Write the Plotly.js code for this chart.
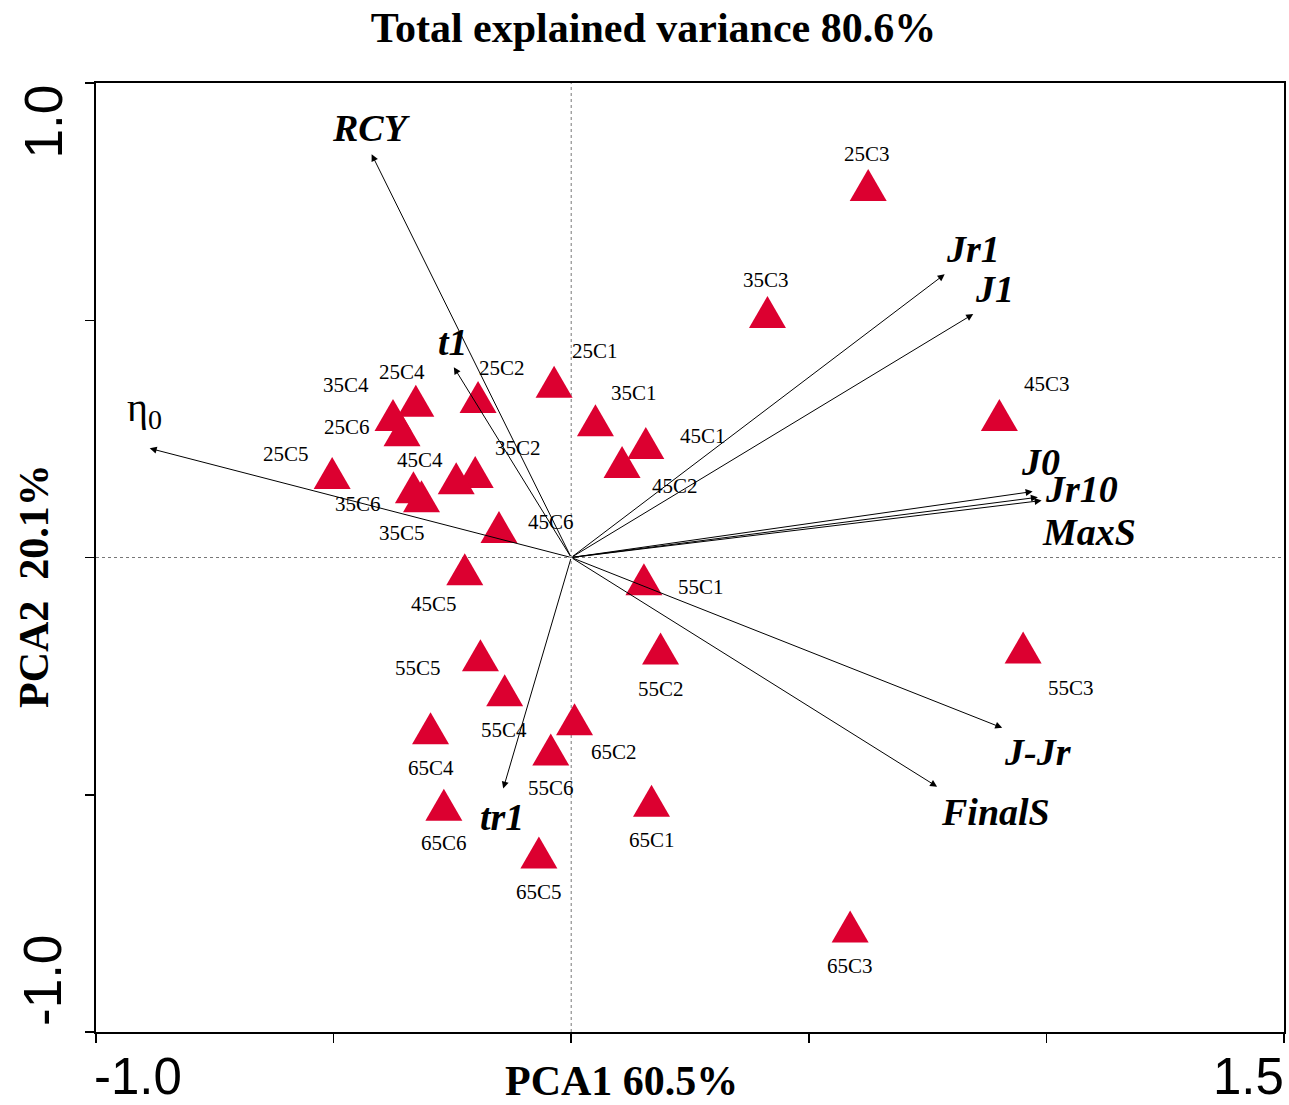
<!DOCTYPE html>
<html>
<head>
<meta charset="utf-8">
<script src="https://cdn.plot.ly/plotly-3.0.1.min.js"></script>
<style>
  html, body { margin: 0; padding: 0; background: #fff; }
  #chart { width: 1289px; height: 1105px; }
</style>
</head>
<body>
<div id="chart"></div>
<script>
// PCA biplot: sample scores (triangles) and variable loadings (arrows)

const sampleNames = ['25C1','25C2','25C3','25C4','25C5','25C6',
                     '35C1','35C2','35C3','35C4','35C5','35C6',
                     '45C1','45C2','45C3','45C4','45C5','45C6',
                     '55C1','55C2','55C3','55C4','55C5','55C6',
                     '65C1','65C2','65C3','65C4','65C5','65C6'];
const samplePC1 = [-0.036, -0.196, 0.625, -0.327, -0.503, -0.356,
                    0.051, -0.202, 0.413, -0.375, -0.315, -0.332,
                    0.157,  0.107, 0.901, -0.242, -0.224, -0.152,
                    0.153,  0.188, 0.951, -0.140, -0.191, -0.043,
                    0.169,  0.007, 0.587, -0.296, -0.068, -0.268];
const samplePC2 = [ 0.359,  0.327, 0.774,  0.319,  0.167,  0.257,
                    0.278,  0.169, 0.506,  0.289,  0.118,  0.137,
                    0.230,  0.190, 0.289,  0.156, -0.036,  0.053,
                   -0.057, -0.203, -0.201, -0.291, -0.217, -0.416,
                   -0.524, -0.352, -0.789, -0.371, -0.633, -0.532];

const varNames = ['RCY', 't1', 'η<sub>0</sub>', 'tr1', 'Jr1', 'J1', 'J0', 'Jr10', 'MaxS', 'J-Jr', 'FinalS'];
const varPC1 = [-0.420, -0.247, -0.887, -0.143, 0.786, 0.846, 0.971, 0.982, 0.990, 0.907, 0.770];
const varPC2 = [ 0.850,  0.401,  0.230, -0.487, 0.597, 0.513, 0.139, 0.127, 0.120, -0.359, -0.483];

const xTickVals = [-1.0, -0.5, 0, 0.5, 1.0, 1.5];
const yTickVals = [-1.0, -0.5, 0, 0.5, 1.0];
const xEndLabels = ['-1.0', '1.5'];
const yEndLabels = ['-1.0', '1.0'];

const titleText = 'Total explained variance 80.6%';
const xTitleText = 'PCA1 60.5%';
const yTitleText = 'PCA2  20.1%';

// ---- styling ----
const RED = '#dc0030';
const SERIF = '"Liberation Serif", "Times New Roman", serif';
const SANS = '"Liberation Sans", Arial, sans-serif';

// pixel offsets of each sample label from its triangle
const sampleLabelShift = {
  '25C1': [41, -36], '25C2': [24, -34], '25C3': [-1, -36], '25C4': [-14, -34], '25C5': [-46, -24], '25C6': [-55, -9],
  '35C1': [39, -33], '35C2': [43, -29], '35C3': [-1, -37], '35C4': [-47, -35], '35C5': [-20, 31], '35C6': [-55, 12],
  '45C1': [57, -12], '45C2': [53, 19], '45C3': [48, -36], '45C4': [-36, -23], '45C5': [-31, 29], '45C6': [52, -10],
  '55C1': [57, 2], '55C2': [0, 35], '55C3': [48, 35], '55C4': [-1, 34], '55C5': [-62, 8], '55C6': [0, 33],
  '65C1': [0, 34], '65C2': [39, 27], '65C3': [0, 34], '65C4': [0, 34], '65C5': [0, 34], '65C6': [0, 33]
};
// pixel offsets of each loading label from its arrow tip
const varLabelShift = {
  'RCY': [0, -26], 't1': [-1, -25], 'η<sub>0</sub>': [-5, -38], 'tr1': [-1, 28],
  'Jr1': [28, -25], 'J1': [21, -25], 'J0': [8, -30], 'Jr10': [44, -8],
  'MaxS': [47, 31], 'J-Jr': [36, 24], 'FinalS': [58, 25]
};

const annotations = [];
const shapes = [];

// dotted reference lines through the origin
shapes.push({type: 'line', xref: 'x', yref: 'paper', x0: 0, x1: 0, y0: 0, y1: 1,
             line: {color: '#777', width: 1, dash: 'dot'}, layer: 'below'});
shapes.push({type: 'line', xref: 'paper', yref: 'y', x0: 0, x1: 1, y0: 0, y1: 0,
             line: {color: '#777', width: 1, dash: 'dot'}, layer: 'below'});

// loading arrows from the origin
varNames.forEach((name, i) => {
  annotations.push({
    x: varPC1[i], y: varPC2[i], ax: 0, ay: 0, axref: 'x', ayref: 'y', xref: 'x', yref: 'y',
    text: '', showarrow: true, arrowhead: 2, arrowsize: 1.4, arrowwidth: 1, arrowcolor: '#000',
    standoff: 0, startstandoff: 0
  });
  const sh = varLabelShift[name];
  const isEta = name.indexOf('η') === 0;
  annotations.push({
    x: varPC1[i], y: varPC2[i], xref: 'x', yref: 'y', showarrow: false,
    text: isEta ? name : '<b><i>' + name + '</i></b>',
    xshift: sh[0], yshift: -sh[1],
    font: {family: SERIF, size: isEta ? 40 : 38, color: '#000'}
  });
});

// sample triangles, equilateral, anchored at each score
sampleNames.forEach((name, i) => {
  shapes.push({
    type: 'path', xref: 'x', yref: 'y', xsizemode: 'pixel', ysizemode: 'pixel',
    xanchor: samplePC1[i], yanchor: samplePC2[i],
    path: 'M -18.5 -10.7 L 18.5 -10.7 L 0 21.3 Z',
    fillcolor: RED, line: {width: 0}, layer: 'above'
  });
  const sh = sampleLabelShift[name];
  annotations.push({
    x: samplePC1[i], y: samplePC2[i], xref: 'x', yref: 'y', showarrow: false,
    text: name, xshift: sh[0], yshift: -sh[1],
    font: {family: SERIF, size: 21, color: '#000'}
  });
});

// end tick labels on both axes
annotations.push({x: xTickVals[0], y: 0, xref: 'x', yref: 'paper', yanchor: 'top', xanchor: 'left',
  yshift: -14, xshift: -4, showarrow: false, text: xEndLabels[0], font: {family: SANS, size: 51, color: '#000'}});
annotations.push({x: xTickVals[xTickVals.length - 1], y: 0, xref: 'x', yref: 'paper', yanchor: 'top', xanchor: 'right',
  yshift: -14, xshift: 2, showarrow: false, text: xEndLabels[1], font: {family: SANS, size: 51, color: '#000'}});
annotations.push({x: 0, y: yTickVals[0], xref: 'paper', yref: 'y', xanchor: 'right', yanchor: 'bottom',
  xshift: -22, yshift: 4, textangle: -90, showarrow: false, text: yEndLabels[0], font: {family: SANS, size: 53, color: '#000'}});
annotations.push({x: 0, y: yTickVals[yTickVals.length - 1], xref: 'paper', yref: 'y', xanchor: 'right', yanchor: 'top',
  xshift: -22, yshift: 0, textangle: -90, showarrow: false, text: yEndLabels[1], font: {family: SANS, size: 53, color: '#000'}});

// axis titles
annotations.push({x: 0.105, y: 0, xref: 'x', yref: 'paper', yanchor: 'top', xanchor: 'center', yshift: -24,
  showarrow: false, text: '<b>' + xTitleText + '</b>', font: {family: SERIF, size: 42, color: '#000'}});
annotations.push({x: 0, y: -0.06, xref: 'paper', yref: 'y', xanchor: 'center', yanchor: 'middle', xshift: -62,
  textangle: -90, showarrow: false, text: '<b>' + yTitleText + '</b>', font: {family: SERIF, size: 42, color: '#000'}});

const trace = {
  x: samplePC1, y: samplePC2, text: sampleNames, type: 'scatter', mode: 'markers',
  marker: {size: 1, color: RED, opacity: 0}, hoverinfo: 'text', showlegend: false
};

const axisCommon = {
  showgrid: false, zeroline: false, showline: true, linecolor: '#000', linewidth: 2,
  mirror: true, ticks: 'outside', ticklen: 9, tickwidth: 1.5, tickcolor: '#000',
  showticklabels: false, tickmode: 'array'
};

const layout = {
  width: 1289, height: 1105,
  margin: {l: 96, r: 5, t: 83, b: 73},
  paper_bgcolor: '#fff', plot_bgcolor: '#fff',
  title: {text: '<b>' + titleText + '</b>', x: 0.507, xanchor: 'center', y: 0.975, yanchor: 'middle',
          font: {family: SERIF, size: 42, color: '#000'}},
  xaxis: Object.assign({}, axisCommon, {range: [-1.0, 1.5], tickvals: xTickVals}),
  yaxis: Object.assign({}, axisCommon, {range: [-1.0, 1.0], tickvals: yTickVals}),
  shapes: shapes,
  annotations: annotations,
  showlegend: false
};

Plotly.newPlot('chart', [trace], layout, {displayModeBar: false, staticPlot: true});
</script>
</body>
</html>
